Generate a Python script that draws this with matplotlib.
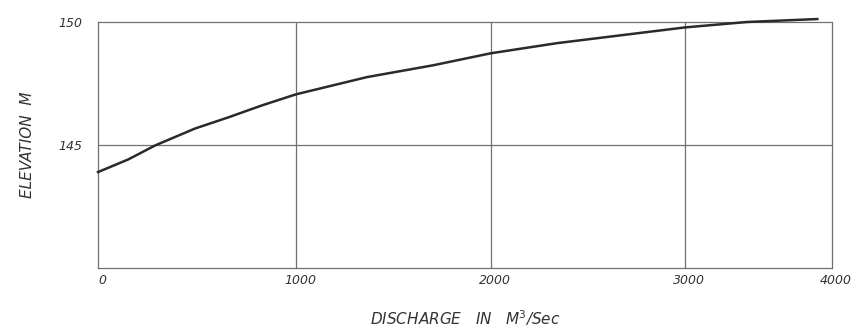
import numpy as np
import matplotlib
matplotlib.use("Agg")
import matplotlib.pyplot as plt
import matplotlib.transforms as mtransforms

# Rating curve
discharge = [0, 152, 288, 490, 657, 828, 1000, 1364, 1703, 2000, 2340, 2680, 3000, 3422, 3900]
elevation = [143.9, 144.41, 144.98, 145.67, 146.12, 146.61, 147.06, 147.76, 148.24, 148.73,
             149.14, 149.47, 149.78, 150.0, 150.12]

x_ticks = [0, 1000, 2000, 3000, 4000]
x_tick_labels = ["0", "1000", "2000", "3000", "4000"]
y_ticks = [145, 150]
y_tick_labels = ["145", "150"]

# The scanned drawing is not evenly spaced along x; map the tick values to
# their drawn positions (relative units) with a piecewise linear scale.
scale_data = [0, 1000, 2000, 3000, 4000]
scale_pos = [0, 198, 393, 587, 734]


def fwd(v):
    return np.interp(v, scale_data, scale_pos)


def inv(v):
    return np.interp(v, scale_pos, scale_data)


fig = plt.figure(figsize=(8.56, 3.28), dpi=100)
fig.patch.set_facecolor("white")
ax = fig.add_axes([98 / 856, 1 - 268 / 328, 734 / 856, 246 / 328])
ax.set_xscale("function", functions=(fwd, inv))
ax.set_xlim(0, 4000)
ax.set_ylim(140, 150)

grid_c = "#707070"
for xv in x_ticks[1:-1]:
    ax.axvline(xv, color=grid_c, lw=0.9, zorder=1)
ax.axhline(145, color=grid_c, lw=0.9, zorder=1)

ax.plot(discharge, elevation, color="#2a2a2a", lw=1.8, zorder=3, clip_on=False)

for s in ax.spines.values():
    s.set_color(grid_c)
    s.set_linewidth(0.9)

ax.set_xticks(x_ticks)
ax.set_xticklabels(x_tick_labels, fontsize=9, style="italic", color="#333333")
ax.set_yticks(y_ticks)
ax.set_yticklabels(y_tick_labels, fontsize=9, style="italic", color="#333333")
ax.tick_params(axis="both", length=0)
ax.tick_params(axis="x", pad=4)
ax.tick_params(axis="y", pad=11)
ax.minorticks_off()

shift = mtransforms.ScaledTranslation(4 / 100, 0, fig.dpi_scale_trans)
for lbl in ax.get_xticklabels():
    lbl.set_transform(lbl.get_transform() + shift)

ax.set_xlabel("DISCHARGE   IN   M$^3$/Sec", fontsize=11, style="italic", color="#333333", labelpad=16)
ax.set_ylabel("ELEVATION  M", fontsize=11, style="italic", color="#333333")
ax.yaxis.set_label_coords(-0.086, 0.5)

fig.savefig("out.png", dpi=100, facecolor="white")
